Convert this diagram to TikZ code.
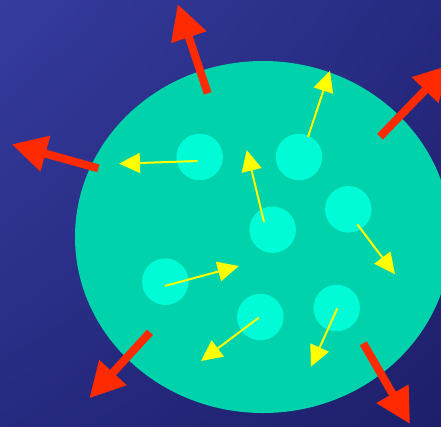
\documentclass[tikz,border=0pt]{standalone}
\usetikzlibrary{arrows.meta,shadings}
\definecolor{bgA}{HTML}{363C9E}
\definecolor{bgB}{HTML}{262A80}
\definecolor{bgC}{HTML}{1E1F6A}
\definecolor{cellc}{HTML}{00D3AB}
\definecolor{blobc}{HTML}{00FBD6}
\definecolor{yel}{HTML}{FFFF00}
\definecolor{redc}{HTML}{FF2A00}
\tikzset{
  blob/.style={circle,fill=blobc,minimum size=46.5pt,inner sep=0pt,draw=none},
  yarrow/.style={draw=yel,line width=2pt,-{Triangle[length=21pt,width=20pt]},fill=yel},
  rarrow/.style={draw=redc,line width=8pt,-{Triangle[length=35pt,width=35pt]},fill=redc},
}
\begin{document}
\begin{tikzpicture}[x=1pt,y=-1pt]
\useasboundingbox (0,0) rectangle (441,426);
\shade[upper left=bgA,upper right=bgB,lower left=bgB,lower right=bgC] (0,0) rectangle (441,426);
\fill[cellc] (263,237) ellipse [x radius=188, y radius=176];
\node[blob] (b1) at (199.7,157) {};
\node[blob] (b2) at (299,157) {};
\node[blob] (b3) at (272.7,229.7) {};
\node[blob] (b4) at (348.3,209.3) {};
\node[blob] (b5) at (165.3,281.7) {};
\node[blob] (b6) at (260.3,317) {};
\node[blob] (b7) at (336.7,308) {};
% yellow arrows
\coordinate (ya1) at (197.7,161); \coordinate (ya2) at (119,163.7);
\coordinate (yb1) at (308,137); \coordinate (yb2) at (330,70.7);
\coordinate (yc1) at (264,222); \coordinate (yc2) at (246.7,150);
\coordinate (yd1) at (357.3,224.3); \coordinate (yd2) at (395,274.3);
\coordinate (ye1) at (164.7,286); \coordinate (ye2) at (238.7,266);
\coordinate (yf1) at (258.7,317.7); \coordinate (yf2) at (201,361);
\coordinate (yg1) at (337.3,308.3); \coordinate (yg2) at (311,366.7);
\foreach \a in {a,b,c,d,e,f,g} \draw[yarrow] (y\a1) -- (y\a2);
% red arrows
\coordinate (rA1) at (207.7,93.3); \coordinate (rA2) at (177.7,4);
\coordinate (rB1) at (380,136.7); \coordinate (rB2) at (449.4,65);
\coordinate (rC1) at (98.3,168.3); \coordinate (rC2) at (11.7,144.3);
\coordinate (rD1) at (150,332.3); \coordinate (rD2) at (89.3,398.3);
\coordinate (rE1) at (363.3,343.3); \coordinate (rE2) at (410,424);
\foreach \a in {A,B,C,D,E} \draw[rarrow] (r\a1) -- (r\a2);
\end{tikzpicture}
\end{document}
